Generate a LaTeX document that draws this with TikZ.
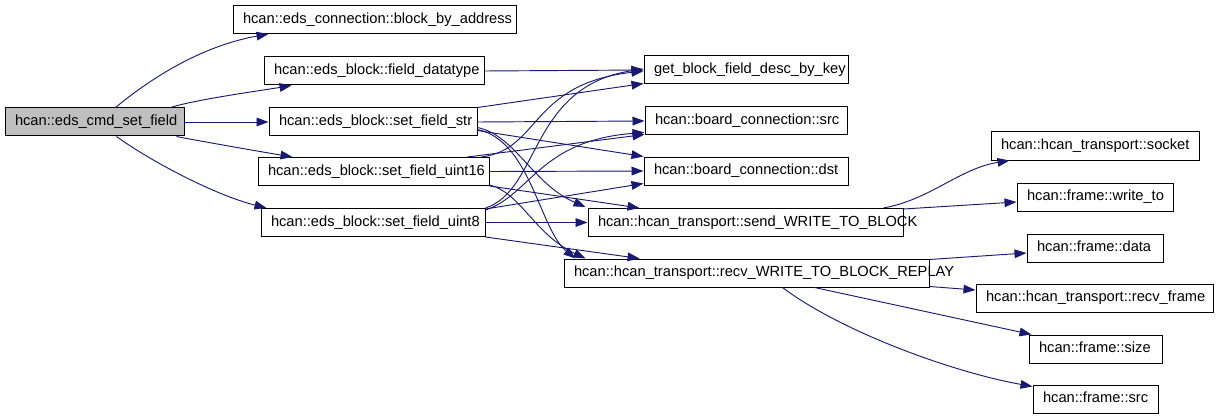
\documentclass[tikz,border=0pt]{standalone}
\usepackage{fontspec}
\setmainfont{Liberation Sans}
\usetikzlibrary{arrows.meta,calc}
\definecolor{edgeblue}{HTML}{191970}
\definecolor{hl}{HTML}{BFBFBF}
\newlength{\pxu}\setlength{\pxu}{0.75pt}
\newcommand{\lbl}[2]{\makebox[#1\pxu][l]{\hspace*{7.5pt}\rule[-3.4pt]{0pt}{12.4pt}#2}}
\begin{document}
\begin{tikzpicture}[x=0.75pt,y=-0.75pt,
  box/.style={draw=black, line width=0.75pt, fill=white, minimum height=21pt, inner sep=0pt, font=\fontsize{11}{13}\selectfont},
  call/.style={draw=edgeblue, line width=0.7pt, -{Triangle[length=9pt,width=6.5pt]}}]
\useasboundingbox (0,0) rectangle (1219,417);
% nodes
\node[box, fill=hl] (cmd) at (94.5,122) {\lbl{179}{hcan::eds\_cmd\_set\_field}};
\node[box] (bba) at (374.5,19.5) {\lbl{283}{hcan::eds\_connection::block\_by\_address}};
\node[box] (fdt) at (374,71) {\lbl{220}{hcan::eds\_block::field\_datatype}};
\node[box] (sfs) at (373,122) {\lbl{208}{hcan::eds\_block::set\_field\_str}};
\node[box] (u16) at (373.5,171.5) {\lbl{231}{hcan::eds\_block::set\_field\_uint16}};
\node[box] (u8) at (373,222.5) {\lbl{224}{hcan::eds\_block::set\_field\_uint8}};
\node[box] (gbf) at (746,70) {\lbl{204}{get\_block\_field\_desc\_by\_key}};
\node[box] (bsrc) at (746,121) {\lbl{202}{hcan::board\_connection::src}};
\node[box] (bdst) at (746,171) {\lbl{204}{hcan::board\_connection::dst}};
\node[box] (send) at (745.5,222.5) {\lbl{315}{hcan::hcan\_transport::send\_WRITE\_TO\_BLOCK}};
\node[box] (recv) at (746.5,273) {\lbl{365}{hcan::hcan\_transport::recv\_WRITE\_TO\_BLOCK\_REPLAY}};
\node[box] (sock) at (1095,146) {\lbl{208}{hcan::hcan\_transport::socket}};
\node[box] (wto) at (1095,197) {\lbl{156}{hcan::frame::write\_to}};
\node[box] (data) at (1095,248) {\lbl{136}{hcan::frame::data}};
\node[box] (rfr) at (1094.5,298) {\lbl{237}{hcan::hcan\_transport::recv\_frame}};
\node[box] (size) at (1095.5,349) {\lbl{133}{hcan::frame::size}};
\node[box] (fsrc) at (1095.5,399) {\lbl{125}{hcan::frame::src}};
% edges from eds_cmd_set_field
\draw[call] ($(cmd.north west)+(111,0)$) .. controls +(34,-28) and +(-69,12.5) .. ($(bba.south west)+(36,0)$);
\draw[call] ($(cmd.north west)+(166,0)$) .. controls +(25,-8) and +(-30,5) .. ($(fdt.south west)+(28,0)$);
\draw[call] (cmd.east) -- (sfs.west);
\draw[call] ($(cmd.south west)+(172,0)$) .. controls +(20,4) and +(-30,-5) .. ($(u16.north west)+(35,0)$);
\draw[call] ($(cmd.south west)+(112,0)$) .. controls +(33,24) and +(-52,-13) .. ($(u8.north west)+(6,0)$);
% field_datatype
\draw[call] (fdt.east) -- (gbf.west);
% set_field_str
\draw[call] (sfs.north east) -- ($(gbf.south west)+(0,-1)$);
\draw[call] (sfs.east) -- (bsrc.west);
\draw[call] ($(sfs.south east)+(0,-6)$) -- (bdst.north west);
\draw[call] ($(sfs.south east)+(0,-9)$) .. controls +(38,8) and +(-53,-23) .. ($(send.north west)+(-2,-1)$);
\draw[call] ($(sfs.south east)+(0,-7)$) .. controls +(53,11) and +(-36,-29) .. ($(recv.north west)+(12,0)$);
% set_field_uint16
\draw[call] ($(u16.north east)+(-8,0)$) .. controls +(59,-7.5) and +(-114,13) .. ($(gbf.west)+(0,1)$);
\draw[call] ($(u16.north east)+(-22,0)$) -- ($(bsrc.south west)+(0,-1)$);
\draw[call] (u16.east) -- (bdst.west);
\draw[call] (u16.south east) -- ($(send.north west)+(52,0)$);
\draw[call] ($(u16.south east)+(0,-1)$) .. controls +(31,7.5) and +(-51,-24) .. ($(recv.north west)+(22,0)$);
% set_field_uint8
\draw[call] (u8.north east) .. controls +(55,-18) and +(-114,17) .. ($(gbf.west)+(0,-1)$);
\draw[call] ($(u8.north east)+(0,2)$) .. controls +(45,-15) and +(-105,8) .. ($(bsrc.south west)+(0,-3)$);
\draw[call] ($(u8.north east)+(0,1)$) -- ($(bdst.south west)+(0,-2)$);
\draw[call] (u8.east) -- (send.west);
\draw[call] (u8.south east) -- ($(recv.north west)+(76,0)$);
% send_WRITE_TO_BLOCK
\draw[call] ($(send.north east)+(-20,0)$) .. controls +(47,-8.5) and +(-50,8) .. ($(sock.south west)+(19,0)$);
\draw[call] ($(send.north east)+(0,1)$) -- ($(wto.west)+(0,5)$);
% recv_WRITE_TO_BLOCK_REPLAY
\draw[call] ($(recv.north east)+(0,1)$) -- ($(data.west)+(0,5)$);
\draw[call] ($(recv.south east)+(0,-1)$) -- ($(rfr.west)+(0,-8)$);
\draw[call] ($(recv.south west)+(251,0)$) -- ($(size.north west)+(3,0)$);
\draw[call] ($(recv.south west)+(219,0)$) .. controls +(57,43) and +(-83,-15) .. ($(fsrc.north west)+(0,2)$);
\end{tikzpicture}
\end{document}
